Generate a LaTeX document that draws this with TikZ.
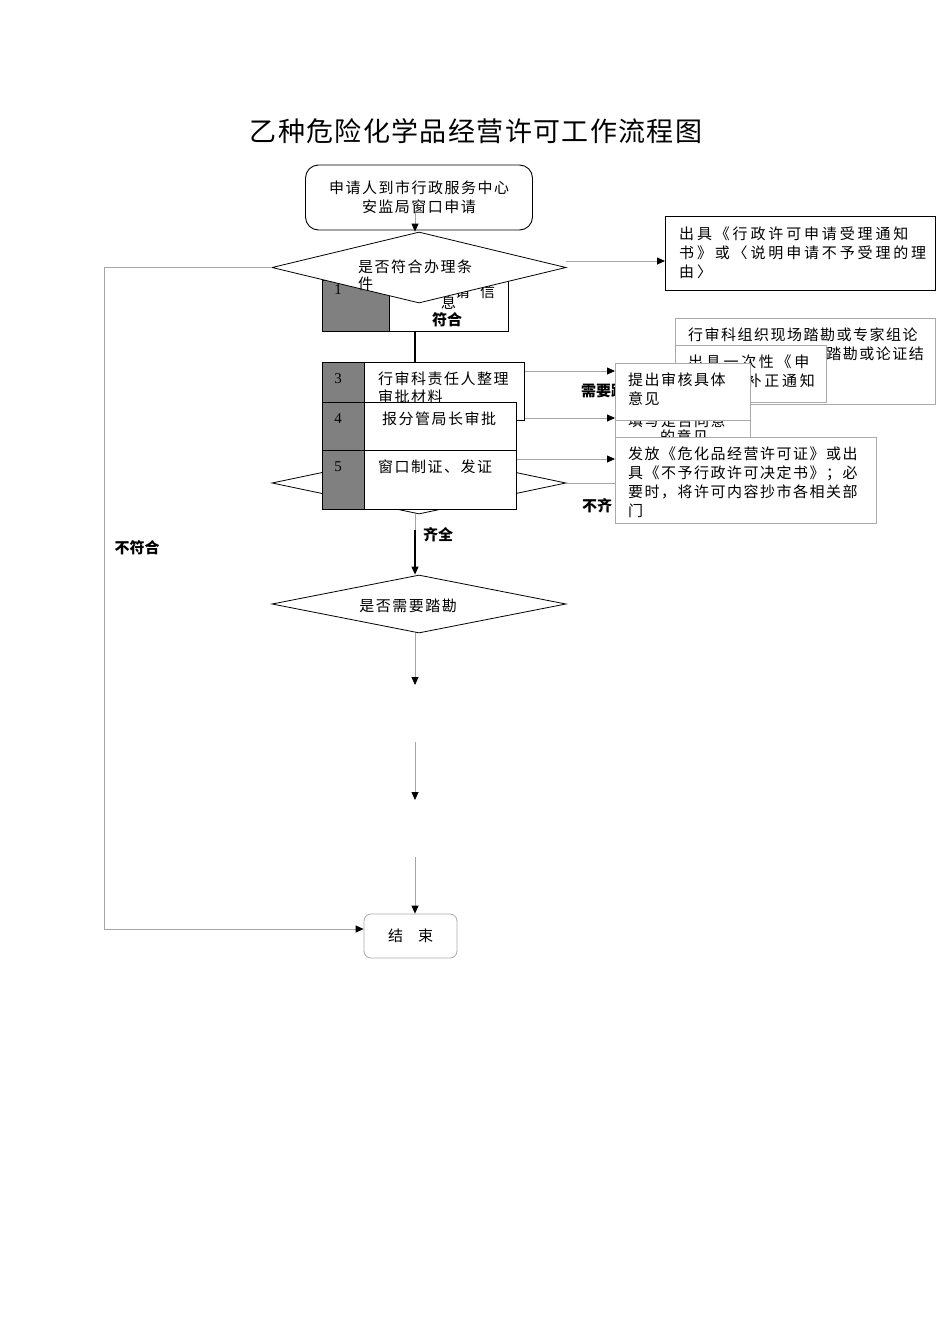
\documentclass[tikz,border=0pt]{standalone}
\usepackage{fontspec}
\setmainfont{Liberation Serif}
\newfontfamily\cjk{Noto Sans CJK SC}
\usetikzlibrary{shapes.geometric,arrows.meta}

\definecolor{ccligne}{RGB}{165,165,165}
\definecolor{ccgris}{RGB}{128,128,128}
\definecolor{ccbord}{RGB}{170,170,170}

\tikzset{
  texte/.style={inner sep=0pt, anchor=west, font=\cjk\fontsize{15}{19}\selectfont\addfontfeature{LetterSpace=10}},
  etiquette/.style={inner sep=0pt, font=\cjk\bfseries\fontsize{15}{18}\selectfont},
  numero/.style={inner sep=0pt, font=\fontsize{15}{18}\selectfont},
  boite/.style={draw=black, fill=white, line width=0.9pt, inner sep=0pt, anchor=north west},
  boitegrise/.style={draw=ccbord, fill=white, line width=0.8pt, inner sep=0pt, anchor=north west},
  cellule/.style={draw=black, fill=ccgris, line width=0.9pt, inner sep=0pt, anchor=north west},
  losange/.style={diamond, draw=black, fill=white, line width=0.8pt, inner sep=0pt, minimum width=294},
  lien/.style={draw=ccligne, line width=0.8pt},
  lienfort/.style={draw=black, line width=1.1pt},
  fleche/.style={-{Triangle[length=8pt,width=7pt,color=black]}},
}

\begin{document}
\begin{tikzpicture}[x=1pt,y=-1pt]

  % Bounding box of the page
  \useasboundingbox (0,0) rectangle (950,1344);

  % Axe des liens verticaux
  \coordinate (axe) at (415,0);

  %%%%%%%%%%%%%%%%%%%%%%%%%%%%%%%%% Titre %%%%%%%%%%%%%%%%%%%%%%%%%%%%%%%%%%%%
  \draw (476,131) node[inner sep=0pt, font=\cjk\fontsize{27}{30}\selectfont\addfontfeature{LetterSpace=5}] (titre) {乙种危险化学品经营许可工作流程图};

  %%%%%%%%%%%%%%%%%%%%%%%%%%%%%%%%% Colonne centrale %%%%%%%%%%%%%%%%%%%%%%%%%%%%%%%%%%%%

  % Demande
  \draw (419,197.5) node[draw=black, line width=0.9pt, rounded corners=13pt, minimum width=227, minimum height=65, align=center, font=\cjk\fontsize{15}{19}\selectfont\addfontfeature{LetterSpace=10}] (demande) {申请人到市行政服务中心\\安监局窗口申请};

  % Bloc 1 (sous le premier losange)
  \draw (322,280) node[boite, minimum width=186, minimum height=51] (b1) {};
  \draw (322,280) node[cellule, minimum width=67, minimum height=51] (b1g) {};
  \draw (338,290) node[numero] (n1) {1};
  \draw (455,292) node[texte] (b1a) {请};
  \draw (480,292) node[texte] (b1b) {信};
  \draw (441,303) node[texte] (b1c) {息};

  % Premier losange
  \draw (419,267.5) node[losange, minimum height=71] (q1) {};
  \draw (358,267) node[texte] (q1a) {是否符合办理条};
  \draw (358,284) node[texte] (q1b) {件};
  \draw (447,320) node[etiquette] (oui) {符合};

  % Second losange, cache par les blocs
  \draw (419,483) node[losange, minimum height=62] (q2) {};

  % Blocs 3, 4, 5
  \draw (322,362) node[boite, minimum width=202, minimum height=58] (b3) {};
  \draw (322,362) node[cellule, minimum width=42, minimum height=58] (b3g) {};
  \draw (338,379) node[numero] (n3) {3};
  \draw (378,379) node[texte] (b3a) {行审科责任人整理};
  \draw (378,397) node[texte] (b3b) {审批材料};

  \draw (322,402) node[boite, minimum width=194, minimum height=48] (b4) {};
  \draw (322,402) node[cellule, minimum width=42, minimum height=48] (b4g) {};
  \draw (338,419) node[numero] (n4) {4};
  \draw (382,419) node[texte] (b4a) {报分管局长审批};

  \draw (322,450) node[boite, minimum width=194, minimum height=59] (b5) {};
  \draw (322,450) node[cellule, minimum width=42, minimum height=59] (b5g) {};
  \draw (338,467) node[numero] (n5) {5};
  \draw (378,467) node[texte] (b5a) {窗口制证、发证};

  \draw (438,535) node[etiquette] (complet) {齐全};
  \draw (137,548) node[etiquette] (non) {不符合};

  % Troisieme losange
  \draw (419,604) node[losange, minimum height=58] (q3) {};
  \draw (408,606) node[texte, anchor=center] (q3a) {是否需要踏勘};

  % Fin
  \draw (410.5,936) node[draw=ccbord, line width=0.8pt, rounded corners=7pt, minimum width=93, minimum height=44, inner sep=0pt, font=\cjk\fontsize{15}{19}\selectfont] (fin) {结\hspace{15pt}束};

  %%%%%%%%%%%%%%%%%%%%%%%%%%%%%%%%% Colonne de droite %%%%%%%%%%%%%%%%%%%%%%%%%%%%%%%%%%%%

  \draw (665,216) node[boite, minimum width=270, minimum height=74] (acc) {};
  \draw (679,227) node[texte, anchor=north west, align=left, font=\cjk\fontsize{15}{19}\selectfont\addfontfeature{LetterSpace=19}] (acca) {出具《行政许可申请受理通知\\书》或〈说明申请不予受理的理\\由〉};

  \draw (581,391) node[etiquette, anchor=west] (besoin) {需要踏};
  \draw (582,506) node[etiquette, anchor=west] (manque) {不齐};

  \draw (675,318) node[boitegrise, minimum width=260, minimum height=86] (visite) {};
  \draw (688,335) node[texte] (visa) {行审科组织现场踏勘或专家组论};
  \draw (924,354) node[texte, anchor=east] (visb) {踏勘或论证结};

  \draw (675,345) node[boitegrise, minimum width=151, minimum height=57] (corr) {};
  \draw (688,362) node[texte, font=\cjk\fontsize{15}{19}\selectfont\addfontfeature{LetterSpace=18}] (corra) {出具一次性《申};
  \draw (815,381) node[texte, anchor=east, font=\cjk\fontsize{15}{19}\selectfont\addfontfeature{LetterSpace=18}] (corrb) {补正通知};

  \draw (615,400) node[boitegrise, minimum width=135, minimum height=60] (avis) {};
  \draw (628,421) node[texte] (avisa) {填写是否同意};
  \draw (660,437) node[texte] (avisb) {的意见};

  \draw (615,363) node[boitegrise, minimum width=135, minimum height=57] (examen) {};
  \draw (628,373) node[texte, anchor=north west, align=left] (examena) {提出审核具体\\意见};

  \draw (615,437) node[boitegrise, minimum width=261, minimum height=86] (permis) {};
  \draw (628,447) node[texte, anchor=north west, align=left] (permisa) {发放《危化品经营许可证》或出\\具《不予行政许可决定书》；必\\要时，将许可内容抄市各相关部\\门};

  %%%%%%%%%%%%%%%%%%%%%%%%%%%%%%%%% Liens %%%%%%%%%%%%%%%%%%%%%%%%%%%%%%%%%%%%

  \coordinate (depart) at (415,213);
  \draw[lien, fleche] (depart) -- (q1.north -| axe);

  \coordinate (coin) at (104,929);
  \draw[lien, fleche] (q1.west) -| (coin) -- (coin -| fin.west);

  \coordinate (versacc) at (665,261);
  \draw[lien, fleche] (q1.east |- versacc) -- (versacc);

  \draw[lienfort] (b1.south -| axe) -- (b3.north -| axe);

  \coordinate (r1) at (615,371);
  \coordinate (r2) at (615,418);
  \coordinate (r3) at (615,459);
  \draw[lien, fleche] (r1 -| b3.east) -- (r1);
  \draw[lien, fleche] (r2 -| b3.east) -- (r2);
  \draw[lien, fleche] (r3 -| b5.east) -- (r3);
  \draw[lien] (q2.east) -- (q2.east -| permis.west);

  \coordinate (qa) at (415,530);
  \draw[lien] (q2.south -| axe) -- (qa);
  \draw[lienfort, fleche] (qa) -- (q3.north -| axe);

  \coordinate (c1) at (415,685);
  \coordinate (c2a) at (415,742);
  \coordinate (c2b) at (415,800);
  \coordinate (c3) at (415,857);
  \draw[lien, fleche] (q3.south -| axe) -- (c1);
  \draw[lien, fleche] (c2a) -- (c2b);
  \draw[lien, fleche] (c3) -- (fin.north -| axe);

\end{tikzpicture}
\end{document}
